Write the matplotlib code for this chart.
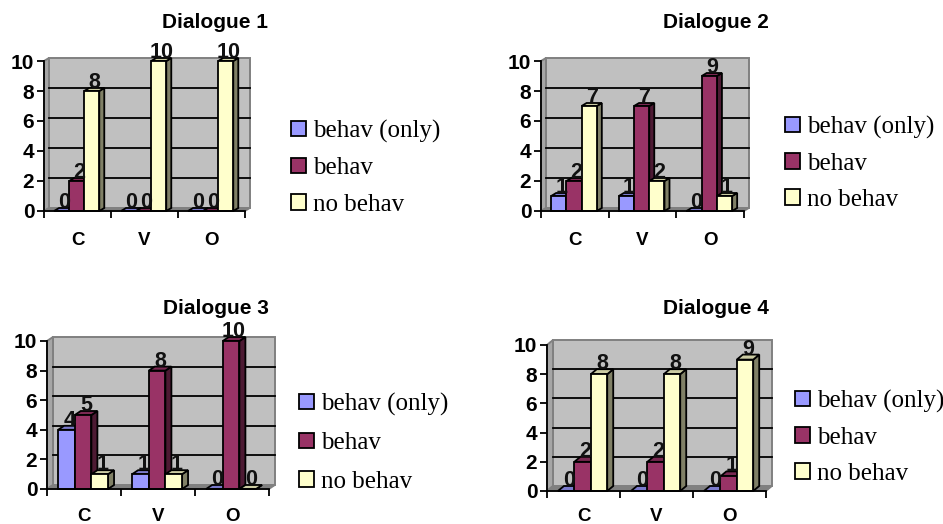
import matplotlib
matplotlib.use('Agg')
import matplotlib.pyplot as plt
from matplotlib.patches import Patch, Polygon, Rectangle

W, H = 943, 524

categories = ['C', 'V', 'O']
series_names = ['behav (only)', 'behav', 'no behav']
colors = ['#9999FF', '#993366', '#FFFFCC']
side_colors = ['#4D4D80', '#4D1A33', '#808066']
top_colors = ['#7A7ACC', '#7A2952', '#CCCCA3']
yticks = [0, 2, 4, 6, 8, 10]

d1_only = [0, 0, 0]
d1_behav = [2, 0, 0]
d1_none = [8, 10, 10]
d2_only = [1, 1, 0]
d2_behav = [2, 7, 9]
d2_none = [7, 2, 1]
d3_only = [4, 1, 0]
d3_behav = [5, 8, 10]
d3_none = [1, 1, 0]
d4_only = [0, 0, 0]
d4_behav = [2, 2, 1]
d4_none = [8, 8, 9]

# x0, x1, y0, y10 of the front axes in pixels, depth of the 3d box, title spot,
# legend first swatch and row pitch, pad of the category labels
panels = [
    ('Dialogue 1', [d1_only, d1_behav, d1_none], (44, 245, 211, 61), (5, 3), (215, 23), (291, 131, 39.5), 15),
    ('Dialogue 2', [d2_only, d2_behav, d2_none], (541, 744, 211, 61), (5, 3), (716, 23), (785, 127, 39), 15),
    ('Dialogue 3', [d3_only, d3_behav, d3_none], (47, 269, 489, 341), (6, 4), (216, 308), (299, 404, 41.5), 14),
    ('Dialogue 4', [d4_only, d4_behav, d4_none], (547, 766, 491, 345), (6, 5), (716, 308), (795, 401, 39), 12.5),
]

BAR_START = 0.15
BAR_W = 0.225
LABEL_SIZE = 15.5
TICK_SIZE = 15
CAT_SIZE = 13.5
TITLE_SIZE = 15
LEGEND_SIZE = 18
LINE = 1.3

plt.rcParams['font.family'] = ['Liberation Sans', 'DejaVu Sans']
fig = plt.figure(figsize=(W / 100, H / 100), dpi=100)


def draw_panel(title, values, box, depth, title_pos, legend_pos, cat_pad):
    x0, x1, y0, y10 = box
    ax = fig.add_axes([x0 / W, 1 - y0 / H, (x1 - x0) / W, (y0 - y10) / H])
    ax.set_xlim(0, 3)
    ax.set_ylim(0, 10)
    ax.patch.set_visible(False)
    # depth in data units
    dx = depth[0] * 3 / (x1 - x0)
    dy = depth[1] * 10 / (y0 - y10)

    # walls and floor
    ax.add_patch(Rectangle((dx, dy), 3, 10, fc='#C0C0C0', ec='#808080', lw=1.4, clip_on=False, zorder=1))
    ax.add_patch(Polygon([(0, 0), (dx, dy), (dx, 10 + dy), (0, 10)], fc='#A6A6A6', ec='#808080', lw=1.4,
                         clip_on=False, zorder=1))
    ax.add_patch(Polygon([(0, 0), (dx, dy), (3 + dx, dy), (3, 0)], fc='#808080', ec='#808080', lw=1.2,
                         clip_on=False, zorder=1))
    for t in yticks[1:-1]:
        ax.plot([dx, 3 + dx], [t + dy, t + dy], color='black', lw=LINE, clip_on=False, zorder=2)

    # bars, left to right so the next front hides the side before it
    for c in range(len(categories)):
        for s in range(len(series_names)):
            v = values[s][c]
            left = c + BAR_START + s * BAR_W
            right = left + BAR_W
            ax.add_patch(Polygon([(right, 0), (right + dx, dy), (right + dx, v + dy), (right, v)],
                                 fc=side_colors[s], ec='black', lw=LINE, clip_on=False, zorder=3))
            ax.add_patch(Polygon([(left, v), (left + dx, v + dy), (right + dx, v + dy), (right, v)],
                                 fc=top_colors[s], ec='black', lw=LINE, clip_on=False, zorder=3))
            ax.bar(left, v, BAR_W, align='edge', color=colors[s], edgecolor='black', lw=LINE,
                   clip_on=False, zorder=3)
            ax.text(left + BAR_W / 2 + dx / 2, v + dy, str(v), ha='center', va='baseline',
                    fontsize=LABEL_SIZE, fontweight='bold', color='#111111', zorder=5)

    for side in ['top', 'right']:
        ax.spines[side].set_visible(False)
    for side in ['left', 'bottom']:
        ax.spines[side].set_linewidth(LINE)
        ax.spines[side].set_zorder(4)
    ax.set_xticks(range(len(categories) + 1))
    ax.set_xticklabels([])
    ax.set_xticks([c + 0.5 for c in range(len(categories))], categories, minor=True,
                  fontsize=CAT_SIZE, fontweight='bold')
    ax.tick_params(axis='x', which='major', length=5, width=LINE)
    ax.tick_params(axis='x', which='minor', length=0, pad=cat_pad)
    ax.set_yticks(yticks)
    ax.set_yticklabels([str(t) for t in yticks], fontsize=TICK_SIZE, fontweight='bold')
    ax.tick_params(axis='y', length=5, width=LINE, pad=2)

    fig.text(title_pos[0] / W, 1 - title_pos[1] / H, title, ha='center', va='center',
             fontsize=TITLE_SIZE, fontweight='bold')

    # legend, anchored on the first swatch
    lx, ly, pitch = legend_pos
    size_px = LEGEND_SIZE * 100 / 72
    handles = [Patch(fc=colors[s], ec='black', lw=LINE) for s in range(len(series_names))]
    leg = ax.legend(handles, series_names, loc='upper left',
                    bbox_to_anchor=(lx / W, 1 - (ly - size_px * 0.45) / H),
                    bbox_transform=fig.transFigure, frameon=False, borderpad=0, borderaxespad=0,
                    handlelength=0.58, handleheight=0.58, handletextpad=0.3,
                    labelspacing=(pitch - size_px) / size_px,
                    prop={'family': 'Liberation Serif', 'size': LEGEND_SIZE})
    leg.set_zorder(6)


for title, values, box, depth, title_pos, legend_pos, cat_pad in panels:
    draw_panel(title, values, box, depth, title_pos, legend_pos, cat_pad)

fig.savefig('out.png', dpi=100)
